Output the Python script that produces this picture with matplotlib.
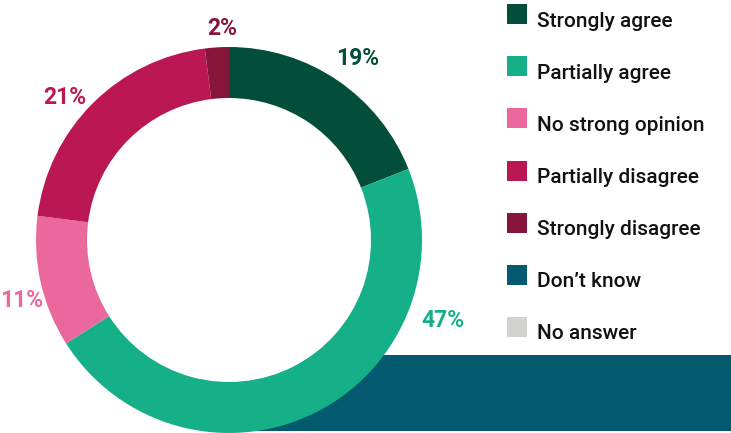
import numpy as np
import matplotlib
matplotlib.use("Agg")
import matplotlib.pyplot as plt
from matplotlib.patches import Rectangle, Circle

# ---- data ----
categories = ["Strongly agree", "Partially agree", "No strong opinion",
              "Partially disagree", "Strongly disagree", "Don\u2019t know", "No answer"]
values = [19, 47, 11, 21, 2, 0, 0]
colors = ["#034e3a", "#16b088", "#ea689b", "#bb1853", "#861539", "#03596e", "#d3d4d0"]

# ---- layout (pixel units, y measured from top) ----
W, H = 731, 433
cx, cy_top = 229, 240
R_out, ring_w = 193, 51
label_angle = [54.7, -20.7, 196.2, 139.1, 91.9]
label_radius = [223, 229, 216, 217, 212]

plt.rcParams['font.family'] = ['Roboto', 'DejaVu Sans']

fig = plt.figure(figsize=(W / 100, H / 100), dpi=100)
ax = fig.add_axes([0, 0, 1, 1])

nz = [(v, c) for v, c in zip(values, colors) if v > 0]
wedges, _ = ax.pie([v for v, _ in nz], colors=[c for _, c in nz], startangle=90,
                   counterclock=False, center=(cx, H - cy_top), radius=R_out,
                   wedgeprops=dict(width=ring_w, edgecolor='none', linewidth=0))
for w in wedges:
    w.set_zorder(2)

# background band in "Don't know" colour, hidden behind the ring and its white hole
ax.add_patch(Rectangle((240, H - 431), W - 240, 76, facecolor=colors[5],
                       edgecolor='none', zorder=0))
ax.add_patch(Circle((cx, H - cy_top), R_out - ring_w + 0.5, facecolor='white',
                    edgecolor='none', zorder=1))

# percentage labels
for i, (v, c) in enumerate(nz):
    a = np.deg2rad(label_angle[i])
    x = cx + label_radius[i] * np.cos(a)
    y = (H - cy_top) + label_radius[i] * np.sin(a)
    ax.text(x, y, f"{v}%", color=c, fontsize=16.5, fontweight='bold',
            ha='center', va='center', zorder=3)

# legend
sq = 20
step = 52.07
for i, (lab, c) in enumerate(zip(categories, colors)):
    top = 4.3 + i * step
    ax.add_patch(Rectangle((506.7, H - top - sq), sq, sq, facecolor=c,
                           edgecolor='none', zorder=3))
    ax.text(537, H - (26.7 + i * step), lab, color='#111111', fontsize=15,
            fontweight='medium', ha='left', va='baseline', zorder=3)

ax.set_xlim(0, W)
ax.set_ylim(0, H)
ax.set_aspect('auto')
ax.axis('off')

fig.savefig("out.png", dpi=100)
